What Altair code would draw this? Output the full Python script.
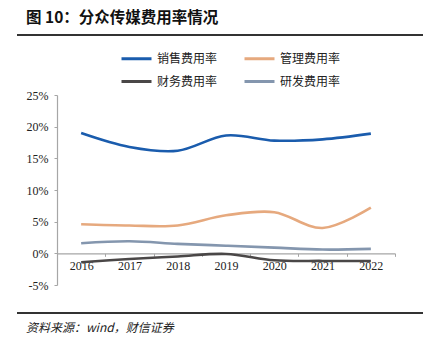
import altair as alt
import pandas as pd

years = ["2016", "2017", "2018", "2019", "2020", "2021", "2022"]
series_names = ["销售费用率", "财务费用率", "管理费用率", "研发费用率"]
sales = [19.0, 16.8, 16.2, 18.6, 17.8, 18.0, 18.9]
finance = [-1.4, -0.9, -0.5, -0.1, -1.1, -1.2, -1.2]
admin = [4.6, 4.4, 4.4, 6.0, 6.5, 4.0, 7.2]
rd = [1.6, 1.9, 1.5, 1.2, 0.9, 0.6, 0.7]
colors = ["#1A5CAD", "#4A4747", "#E6A97E", "#8496AE"]
y_ticks = [-5, 0, 5, 10, 15, 20, 25]

title_text = "图 10：分众传媒费用率情况"
source_text = "资料来源：wind，财信证券"

rows = []
for name, vals in zip(series_names, [sales, finance, admin, rd]):
    for yr, v in zip(years, vals):
        rows.append({"year": yr, "series": name, "value": v})
df = pd.DataFrame(rows)

W, H = 338, 190
y_min, y_max = -5, 25
x_offset = -(0 - y_min) / (y_max - y_min) * H

lines = alt.Chart(df).mark_line(strokeWidth=2.6, interpolate="cardinal").encode(
    x=alt.X("year:O", sort=years,
            scale=alt.Scale(type="band", paddingInner=0, paddingOuter=0),
            axis=alt.Axis(title=None, labelAngle=0, offset=x_offset, tickBand="extent",
                          domainColor="#A6A6A6", tickColor="#A6A6A6", tickSize=3,
                          labelFont="Liberation Serif", labelFontSize=12, labelColor="#222222",
                          labelPadding=4, domainWidth=1.2)),
    y=alt.Y("value:Q", scale=alt.Scale(domain=[y_min, y_max], nice=False),
            axis=alt.Axis(title=None, values=y_ticks, labelExpr="datum.value + '%'",
                          grid=False, domainColor="#A6A6A6", tickColor="#A6A6A6", tickSize=3,
                          labelFont="Liberation Serif", labelFontSize=12, labelColor="#222222",
                          labelPadding=6, domainWidth=1.2)),
    color=alt.Color("series:N", sort=series_names,
                    scale=alt.Scale(domain=series_names, range=colors),
                    legend=alt.Legend(title=None, orient="none", legendX=63, legendY=-53,
                                      columns=2, symbolType="stroke", symbolSize=900,
                                      symbolStrokeWidth=3, labelFont="Noto Sans CJK SC",
                                      labelFontSize=12, labelColor="#222222", labelOffset=4,
                                      columnPadding=20, rowPadding=-6, padding=0)),
    detail="series:N",
)

one = pd.DataFrame({"k": [0]})
top_rule = alt.Chart(one).mark_rule(color="#333333", strokeWidth=2).encode(
    x=alt.value(-40), x2=alt.value(366), y=alt.value(-60))
bottom_rule = alt.Chart(one).mark_rule(color="#333333", strokeWidth=2).encode(
    x=alt.value(-40), x2=alt.value(366), y=alt.value(218))
title = alt.Chart(one).mark_text(text=title_text, font="Noto Sans CJK SC", fontWeight="bold",
                                 fontSize=15.5, align="left", baseline="middle",
                                 color="#111111").encode(
    x=alt.value(-31), y=alt.value(-77))
source = alt.Chart(one).mark_text(text=source_text, font="Noto Sans CJK SC", fontStyle="italic",
                                  fontSize=12, align="left", baseline="middle",
                                  color="#222222").encode(
    x=alt.value(-31), y=alt.value(233))

chart = alt.layer(lines, top_rule, bottom_rule, title, source).properties(
    width=W, height=H,
    padding={"left": 57, "top": 95, "right": 29, "bottom": 69},
    autosize=alt.AutoSizeParams(type="none"),
    background="white",
).configure_view(stroke=None)

chart.save("out.html", embed_options={"renderer": "svg", "actions": False})
